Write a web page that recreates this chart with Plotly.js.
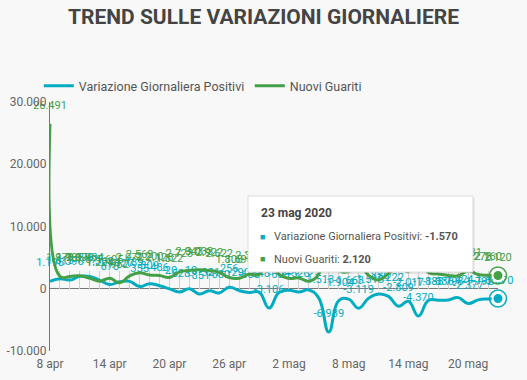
<!DOCTYPE html>
<html>
<head>
<meta charset="utf-8">
<script src="https://cdn.plot.ly/plotly-3.0.1.min.js"></script>
<style>html,body{margin:0;padding:0;background:#f8f8f8;}#chart{width:527px;height:380px;}</style>
</head>
<body>
<div id="chart"></div>
<script>
const dates = ['2020-04-08','2020-04-09','2020-04-10','2020-04-11','2020-04-12','2020-04-13','2020-04-14','2020-04-15','2020-04-16','2020-04-17','2020-04-18','2020-04-19','2020-04-20','2020-04-21','2020-04-22','2020-04-23','2020-04-24','2020-04-25','2020-04-26','2020-04-27','2020-04-28','2020-04-29','2020-04-30','2020-05-01','2020-05-02','2020-05-03','2020-05-04','2020-05-05','2020-05-06','2020-05-07','2020-05-08','2020-05-09','2020-05-10','2020-05-11','2020-05-12','2020-05-13','2020-05-14','2020-05-15','2020-05-16','2020-05-17','2020-05-18','2020-05-19','2020-05-20','2020-05-21','2020-05-22','2020-05-23'];
const variazionePositivi = [1195,1615,1396,1996,1984,1363,675,1127,1189,355,809,486,-20,-528,-10,-851,-321,-680,256,-290,-608,-548,-3106,-608,-239,-525,-199,-1513,-6939,-1904,-1663,-3119,-1518,-836,-1222,-2809,-2017,-4370,-1883,-1836,-1798,-1424,-2377,-1792,-1638,-1570];
const nuoviGuariti = [26491,1979,1985,2079,1677,1224,1695,962,2072,2563,2200,2128,1822,2723,2943,3033,2922,2622,1808,1696,2317,2311,4693,2304,1665,1740,1225,2352,8014,3031,2747,4008,2155,1401,2452,3502,2747,4917,2605,2366,2150,2075,2881,2278,2160,2120];
const seriesNames = ['Variazione Giornaliera Positivi','Nuovi Guariti'];
const tickDates = ['2020-04-08','2020-04-14','2020-04-20','2020-04-26','2020-05-02','2020-05-08','2020-05-14','2020-05-20'];
const tickLabels = ['8 apr','14 apr','20 apr','26 apr','2 mag','8 mag','14 mag','20 mag'];
const yTickVals = [-10000,0,10000,20000,30000];
const yTickLabels = ['-10.000','0','10.000','20.000','30.000'];
const tooltipDate = '23 mag 2020';

const BLUE = '#00acc1', GREEN = '#43a047';
const FONT = 'Roboto, "Open Sans", sans-serif';

function fmtIt(n){
  const s = Math.abs(n).toString().replace(/\B(?=(\d{3})+(?!\d))/g,'.');
  return (n<0?'-':'') + s;
}

const last = dates.length - 1;
const yMin = -10000, yMax = 30000;

function seriesTrace(y, name, color){
  return {x: dates, y: y, name: name, type:'scatter', mode:'lines+markers+text',
   line:{color:color, width:3, shape:'spline', smoothing:1.3},
   marker:{size:18, color:'rgba(0,0,0,0)', line:{width:0}},
   text: y.map(fmtIt), textposition:'top center',
   textfont:{family:FONT, size:11, color:color}, cliponaxis:false};
}
function ring(y, color){
  return {x:[dates[last]], y:[y[last]], mode:'markers', showlegend:false, cliponaxis:false,
   marker:{symbol:'circle-open', size:17, color:color, line:{color:color, width:1.5}}};
}
function dot(y, color){
  return {x:[dates[last]], y:[y[last]], mode:'markers', showlegend:false, cliponaxis:false,
   marker:{symbol:'circle', size:11, color:color, line:{color:'#ffffff', width:2}}};
}

const traces = [
  seriesTrace(variazionePositivi, seriesNames[0], BLUE),
  seriesTrace(nuoviGuariti, seriesNames[1], GREEN),
  ring(variazionePositivi, BLUE), dot(variazionePositivi, BLUE),
  ring(nuoviGuariti, GREEN), dot(nuoviGuariti, GREEN),
  // day ticks along zero line
  {x: dates, y: variazionePositivi.map(()=>null), xaxis:'x2', mode:'lines', showlegend:false, hoverinfo:'skip'}
];

// tooltip geometry (paper coords)
const tipX0 = 0.442, tipX1 = 0.944, tipY0 = 0.317, tipY1 = 0.6225;

const layout = {
  width:527, height:380,
  margin:{l:50, r:29, t:102, b:29},
  paper_bgcolor:'#f8f8f8', plot_bgcolor:'#f8f8f8',
  separators:',.',
  hovermode:false,
  font:{family:FONT, color:'#666', size:12},
  title:{text:'<b>TREND SULLE VARIAZIONI GIORNALIERE</b>', x:0.5, xref:'container', xanchor:'center',
         y:0.955, yref:'container', yanchor:'middle', font:{family:FONT, size:21, color:'#444'}},
  showlegend:true,
  legend:{orientation:'h', x:-0.025, xanchor:'left', y:1.064, yanchor:'middle',
          font:{family:FONT, size:12.5, color:'#555'}, bgcolor:'rgba(0,0,0,0)',
          entrywidth:166, entrywidthmode:'pixels'},
  xaxis:{type:'date', range:[dates[0], dates[last]], tickmode:'array', tickvals:tickDates, ticktext:tickLabels,
         showgrid:false, zeroline:false, showline:false, ticks:'outside', ticklen:2, tickcolor:'rgba(0,0,0,0)',
         tickfont:{family:FONT, size:12, color:'#666'}, fixedrange:true},
  xaxis2:{type:'date', overlaying:'x', anchor:'free', position:(0-yMin)/(yMax-yMin), side:'bottom',
          range:[dates[0], dates[last]], tickmode:'linear', tick0:dates[0], dtick:86400000,
          ticks:'inside', ticklen:18, tickcolor:'#cfcfcf', tickwidth:1, showticklabels:false,
          showgrid:false, showline:false, zeroline:false, layer:'below traces'},
  yaxis:{range:[yMin, yMax], tickmode:'array', tickvals:yTickVals, ticktext:yTickLabels,
         showgrid:false, zeroline:true, zerolinecolor:'#777', zerolinewidth:1,
         showline:true, linecolor:'#777', linewidth:1, ticks:'',
         tickfont:{family:FONT, size:12, color:'#666'}},
  shapes:[
    {type:'rect', xref:'paper', yref:'paper', x0:tipX0+0.004, x1:tipX1+0.004, y0:tipY0-0.008, y1:tipY1-0.008,
     fillcolor:'rgba(0,0,0,0.08)', line:{width:0}, layer:'above'},
    {type:'rect', xref:'paper', yref:'paper', x0:tipX0, x1:tipX1, y0:tipY0, y1:tipY1,
     fillcolor:'#ffffff', line:{color:'#dddddd', width:1}, layer:'above'}
  ],
  annotations:[
    {xref:'paper', yref:'paper', x:0.467, y:0.554, xanchor:'left', yanchor:'middle', showarrow:false,
     text:'<b>'+tooltipDate+'</b>', font:{family:FONT, size:12, color:'#444'}},
    {xref:'paper', yref:'paper', x:0.474, y:0.458, xanchor:'center', yanchor:'middle', showarrow:false,
     text:'■', font:{family:FONT, size:9, color:BLUE}},
    {xref:'paper', yref:'paper', x:0.495, y:0.458, xanchor:'left', yanchor:'middle', showarrow:false,
     text:seriesNames[0]+': <b>'+fmtIt(variazionePositivi[last])+'</b>', font:{family:FONT, size:11, color:'#555'}},
    {xref:'paper', yref:'paper', x:0.474, y:0.369, xanchor:'center', yanchor:'middle', showarrow:false,
     text:'■', font:{family:FONT, size:9, color:GREEN}},
    {xref:'paper', yref:'paper', x:0.495, y:0.369, xanchor:'left', yanchor:'middle', showarrow:false,
     text:seriesNames[1]+': <b>'+fmtIt(nuoviGuariti[last])+'</b>', font:{family:FONT, size:11, color:'#555'}}
  ]
};

Plotly.newPlot('chart', traces, layout, {displayModeBar:false, staticPlot:true});
</script>
</body>
</html>
